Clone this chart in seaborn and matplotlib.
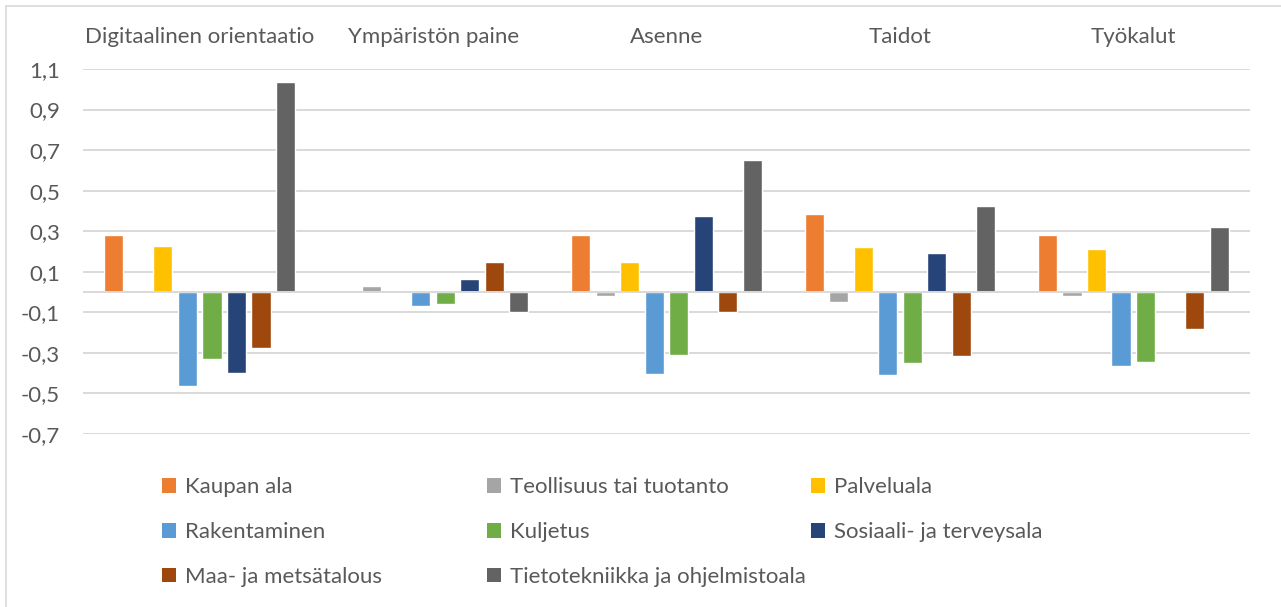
import numpy as np
import pandas as pd
import seaborn as sns
import matplotlib.pyplot as plt
from matplotlib.patches import Rectangle, Patch
from matplotlib.ticker import FuncFormatter

categories = ["Digitaalinen orientaatio", "Ympäristön paine", "Asenne", "Taidot", "Työkalut"]
series_names = ["Kaupan ala", "Teollisuus tai tuotanto", "Palveluala", "Rakentaminen",
                "Kuljetus", "Sosiaali- ja terveysala", "Maa- ja metsätalous",
                "Tietotekniikka ja ohjelmistoala"]
kaupan_ala = [0.283, -0.005, 0.282, 0.384, 0.280]
teollisuus = [0.002, 0.028, -0.020, -0.050, -0.021]
palveluala = [0.229, 0.001, 0.147, 0.222, 0.211]
rakentaminen = [-0.464, -0.067, -0.403, -0.410, -0.367]
kuljetus = [-0.332, -0.060, -0.310, -0.349, -0.344]
sosiaali = [-0.400, 0.063, 0.375, 0.191, 0.003]
maa_metsa = [-0.275, 0.148, -0.098, -0.316, -0.184]
tietotekniikka = [1.034, -0.096, 0.649, 0.423, 0.319]
colors = ["#ED7D31", "#A5A5A5", "#FFC000", "#5B9BD5", "#70AD47", "#264478", "#9E480E", "#636363"]
y_ticks = [-0.7, -0.5, -0.3, -0.1, 0.1, 0.3, 0.5, 0.7, 0.9, 1.1]

values = [kaupan_ala, teollisuus, palveluala, rakentaminen, kuljetus, sosiaali, maa_metsa, tietotekniikka]
rows = []
for name, vals in zip(series_names, values):
    for c, v in zip(categories, vals):
        rows.append({"cat": c, "series": name, "val": v})
df = pd.DataFrame(rows)

sns.set_theme(style="white")
plt.rcParams['font.family'] = ['Lato', 'DejaVu Sans']
text_color = "#595959"
grid_color = "#D9D9D9"
fs = 16

W, H = 1281, 607
fig = plt.figure(figsize=(W / 100, H / 100), dpi=100)
ax = fig.add_axes([83 / W, 1 - 434 / H, (1250 - 83) / W, (434 - 69) / H])

sns.barplot(data=df, x="cat", y="val", hue="series", order=categories, hue_order=series_names,
            palette=colors, width=0.84, gap=0.22, saturation=1, errorbar=None,
            legend=False, ax=ax, zorder=2)

ax.set_xlim(-0.5, len(categories) - 0.5)
ax.set_ylim(-0.7, 1.1)
ax.set_yticks(y_ticks)
ax.yaxis.set_major_formatter(FuncFormatter(lambda v, p: f"{v:.1f}".replace(".", ",")))
ax.yaxis.grid(True, color=grid_color, lw=1.4)
ax.xaxis.grid(False)
ax.set_axisbelow(True)
ax.axhline(0, color=grid_color, lw=1.4, zorder=3)
for s in ax.spines.values():
    s.set_visible(False)
ax.set_xlabel("")
ax.set_ylabel("")
ax.xaxis.tick_top()
ax.tick_params(axis="x", length=0, pad=16, labelsize=fs, labelcolor=text_color)
ax.tick_params(axis="y", length=0, pad=16.5, labelsize=fs, labelcolor=text_color)

# legend in three columns, entries ordered row-wise
col_x = [162 / W, 487 / W, 811 / W]
for ci in range(3):
    idx = [i for i in range(ci, len(series_names), 3)]
    handles = [Patch(facecolor=colors[i], edgecolor="none") for i in idx]
    labels = [series_names[i] for i in idx]
    fig.legend(handles, labels, loc="upper left", bbox_to_anchor=(col_x[ci], 1 - 477 / H),
               frameon=False, fontsize=fs, labelcolor=text_color, handlelength=0.65,
               handleheight=0.65, handletextpad=0.4, labelspacing=1.12,
               borderpad=0, borderaxespad=0)

fig.patches.append(Rectangle((6 / W, -0.01), 1.0, 1 - 6 / H + 0.01, transform=fig.transFigure,
                             fill=False, edgecolor="#D9D9D9", lw=1.2))

fig.savefig("out.png", dpi=100)
